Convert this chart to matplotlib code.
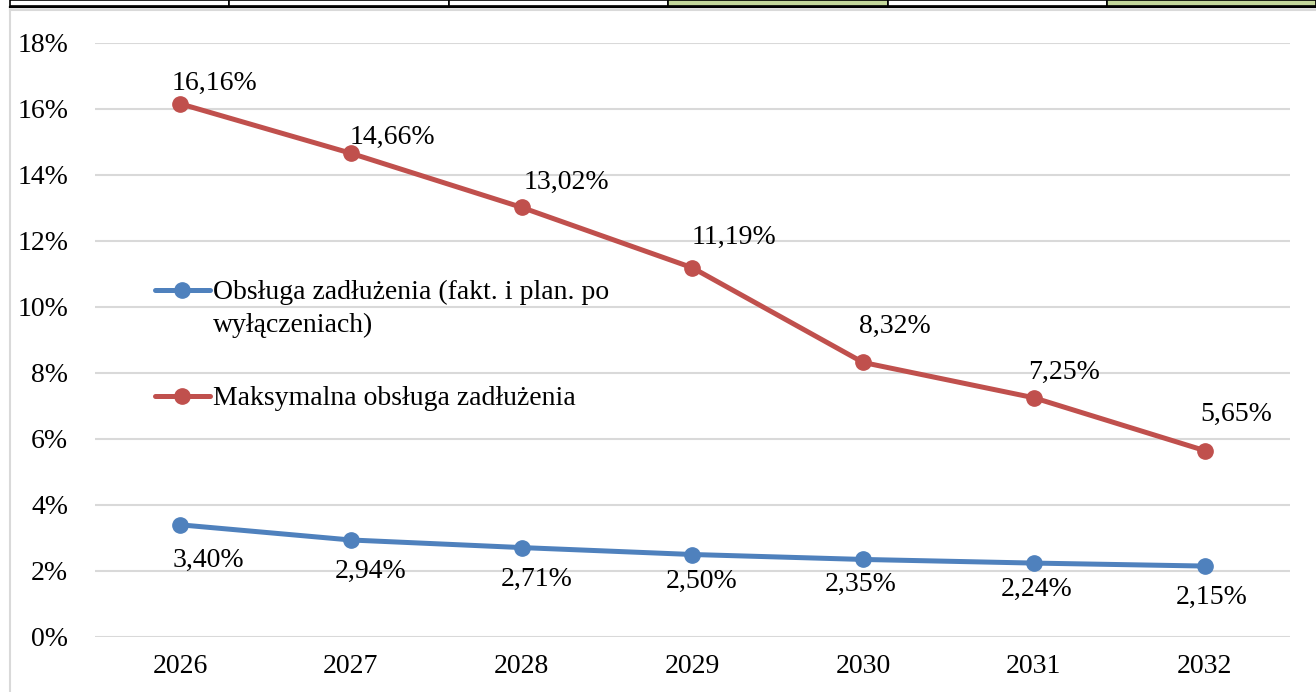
import matplotlib.pyplot as plt
from matplotlib.lines import Line2D
from matplotlib.patches import Rectangle

plt.rcParams['font.family'] = ['Liberation Serif', 'DejaVu Serif']

years = ['2026', '2027', '2028', '2029', '2030', '2031', '2032']
obsluga = [3.40, 2.94, 2.71, 2.50, 2.35, 2.24, 2.15]
maks = [16.16, 14.66, 13.02, 11.19, 8.32, 7.25, 5.65]
name_obs = 'Obsługa zadłużenia (fakt. i plan. po\nwyłączeniach)'
name_max = 'Maksymalna obsługa zadłużenia'

blue = '#4F81BD'
red = '#C0504D'
FS = 20

W, H = 1316, 692
fig = plt.figure(figsize=(W / 100, H / 100), dpi=100)

def px(x, y):
    # pixel (from top left) -> figure fraction
    return x / W, 1 - y / H

# table strip above the chart
cells = [10, 229, 449, 668, 888, 1107, 1316]
green = [False, False, False, True, False, True]
for i in range(len(cells) - 1):
    x0, y0 = px(cells[i], 6)
    x1, _ = px(cells[i + 1], 0)
    fig.add_artist(Rectangle((x0, y0), x1 - x0, 6 / H, transform=fig.transFigure,
                             facecolor='#C4D79B' if green[i] else 'white',
                             edgecolor='black', linewidth=1.2))
fig.add_artist(Line2D([10 / W, 1], [1 - 7 / H] * 2, color='black', lw=1.6))
# chart frame
fig.add_artist(Line2D([10 / W, 1], [1 - 9.5 / H] * 2, color='#D9D9D9', lw=1.5))
fig.add_artist(Line2D([10 / W] * 2, [0, 1 - 9.5 / H], color='#D9D9D9', lw=1.5))

ax = fig.add_axes([94.6 / W, 1 - 637 / H, (1290 - 94.6) / W, (637 - 43) / H])
x = range(len(years))
ax.plot(x, obsluga, color=blue, lw=3.6, marker='o', ms=11, solid_capstyle='round', zorder=3)
ax.plot(x, maks, color=red, lw=3.6, marker='o', ms=11, solid_capstyle='round', zorder=3)

ax.set_xlim(-0.5, len(years) - 0.5)
ax.set_ylim(0, 18)
ax.set_yticks(range(0, 19, 2))
ax.set_yticklabels([f'{v}%' for v in range(0, 19, 2)])
ax.set_xticks(list(x))
ax.set_xticklabels(years)
ax.tick_params(axis='both', length=0, labelsize=FS)
ax.tick_params(axis='y', pad=19)
ax.tick_params(axis='x', pad=12)
ax.grid(axis='y', color='#D9D9D9', lw=1.5)
ax.set_axisbelow(True)
for s in ax.spines.values():
    s.set_visible(False)

fmt = lambda v: f'{v:.2f}%'.replace('.', ',')
# label offsets in pixels (manual positions like in the original)
off_max = [(34, 20), (42, 16), (45, 25), (42, 30), (32, 36), (30, 25), (32, 36)]
off_obs = [(28, -36), (20, -31), (15, -32), (9, -27), (-2, -25), (3, -26), (7, -31)]
for i, v in enumerate(maks):
    ax.annotate(fmt(v), (i, v), xytext=off_max[i], textcoords='offset pixels',
                ha='center', va='center', fontsize=FS)
for i, v in enumerate(obsluga):
    ax.annotate(fmt(v), (i, v), xytext=off_obs[i], textcoords='offset pixels',
                ha='center', va='center', fontsize=FS)

# legend drawn by hand to keep the handle on the first text line
for (yy, col, lab) in [(290, blue, name_obs), (396, red, name_max)]:
    fig.add_artist(Line2D([155 / W, 210 / W], [1 - yy / H] * 2, color=col, lw=3.6,
                          solid_capstyle='round'))
    fig.add_artist(Line2D([182.5 / W], [1 - yy / H], color=col, marker='o', ms=11, lw=0))
    fig.text(213 / W, 1 - (yy - 10) / H, lab, ha='left', va='top', fontsize=FS,
             linespacing=1.4)

fig.savefig('out.png', dpi=100)
